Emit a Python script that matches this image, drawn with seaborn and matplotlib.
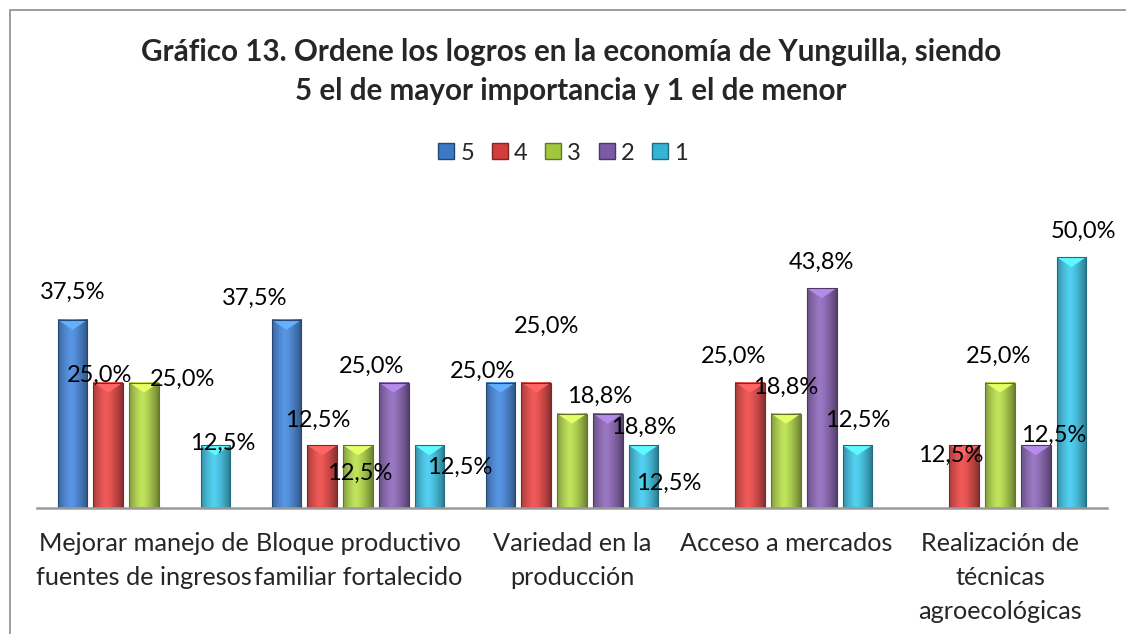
import numpy as np
import pandas as pd
import seaborn as sns
import matplotlib.pyplot as plt
import matplotlib.colors as mcolors
from matplotlib.patches import Rectangle, Polygon

categories = ["Mejorar manejo de\nfuentes de ingresos",
              "Bloque productivo\nfamiliar fortalecido",
              "Variedad en la\nproducción",
              "Acceso a mercados",
              "Realización de\ntécnicas\nagroecológicas"]
levels = ["5", "4", "3", "2", "1"]
v5 = [37.5, 37.5, 25.0, np.nan, np.nan]
v4 = [25.0, 12.5, 25.0, 25.0, 12.5]
v3 = [25.0, 12.5, 18.8, 18.8, 25.0]
v2 = [np.nan, 25.0, 18.8, 43.8, 12.5]
v1 = [12.5, 12.5, 12.5, 12.5, 50.0]
colors = ["#3b78c6", "#d33d3b", "#a3c63f", "#7d5aa6", "#35b3d3"]

# label offsets in pixels from the bar top centre (Excel put them all over the place)
offsets = {
    "5": [(0, 27), (-32, 21), (-18, 11), None, None],
    "4": [(-9, 7), (-5, 25), (10, 56), (-17, 26), (-14, -10)],
    "3": [(39, 3), (2, -28), (28, 17), (0, 26), (-1, 26)],
    "2": [None, (-22, 16), (36, -14), (0, 26), (18, 10)],
    "1": [(7, 2), (30, -22), (25, -38), (0, 25), (12, 26)],
}

df = pd.DataFrame({
    "categoria": categories * 5,
    "nivel": [l for l in levels for _ in categories],
    "valor": v5 + v4 + v3 + v2 + v1,
})

sns.set_style("white")
plt.rcParams["font.family"] = ["Lato", "DejaVu Sans"]

fig = plt.figure(figsize=(11.26, 6.34), dpi=100)
ax = fig.add_axes([37 / 1126, 126 / 634, 1070 / 1126, 276 / 634])

sns.barplot(data=df, x="categoria", y="valor", hue="nivel", hue_order=levels,
            order=categories, palette=colors, width=0.834, gap=0.17,
            errorbar=None, legend=False, ax=ax, saturation=1)


def shade(bar, color):
    x0, y0 = bar.get_x(), bar.get_y()
    w, h = bar.get_width(), bar.get_height()
    base = np.array(mcolors.to_rgb(color))
    t = np.linspace(0, 1, 40)
    prof = 1 - 0.45 * np.abs(t - 0.45) ** 1.5 * 2.2
    light = np.clip(base * prof[:, None] + 0.12 * (1 - np.abs(t - 0.4))[:, None], 0, 1)
    img = light[None, :, :]
    ax.imshow(img, extent=[x0, x0 + w, y0, y0 + h], aspect="auto",
              zorder=2.1, interpolation="bilinear")
    d = 2.0
    tri = Polygon([(x0, y0 + h), (x0 + w, y0 + h), (x0 + w / 2, y0 + h - d)],
                  closed=True, facecolor=np.clip(base * 1.25 + 0.1, 0, 1),
                  edgecolor="none", zorder=2.2)
    ax.add_patch(tri)
    ax.add_patch(Rectangle((x0, y0), w, h, fill=False,
                           edgecolor=base * 0.6, lw=0.8, zorder=2.3))


for lvl, cont, col in zip(levels, ax.containers, colors):
    for bar in cont:
        h = bar.get_height()
        if np.isnan(h) or h == 0:
            continue
        cx = bar.get_x() + bar.get_width() / 2
        ci = int(round(cx))
        shade(bar, col)
        off = offsets[lvl][ci]
        if off is None:
            continue
        ax.annotate(f"{h:.1f}%".replace(".", ","), (cx, h), xytext=off,
                    textcoords="offset pixels", ha="center", va="center",
                    fontsize=17, color="black", zorder=5)

ax.set_xlim(-0.5, 4.5)
ax.set_ylim(0, 55)
ax.set_xlabel("")
ax.set_ylabel("")
ax.set_yticks([])
ax.tick_params(axis="x", length=0, pad=17, labelsize=18.2)
for lab in ax.get_xticklabels():
    lab.set_linespacing(1.58)
for s in ["top", "right", "left"]:
    ax.spines[s].set_visible(False)
ax.spines["bottom"].set_color("#9a9a9a")
ax.spines["bottom"].set_linewidth(1.8)

fig.text(0.507, 1 - 52 / 634, "Gráfico 13. Ordene los logros en la economía de Yunguilla, siendo",
         ha="center", va="center", fontsize=21.3, fontweight="bold")
fig.text(0.507, 1 - 91 / 634, "5 el de mayor importancia y 1 el de menor",
         ha="center", va="center", fontsize=21.3, fontweight="bold")

handles = [Rectangle((0, 0), 1, 1, facecolor=c, edgecolor=np.array(mcolors.to_rgb(c)) * 0.6)
           for c in colors]
fig.legend(handles, levels, loc="center", bbox_to_anchor=(563 / 1126, 1 - 153 / 634),
           ncol=5, frameon=False, fontsize=17, handlelength=0.68, handleheight=0.63,
           handletextpad=0.25, columnspacing=0.75)

fig.patches.append(Rectangle((10 / 1126, -0.1), 1.2, (634 - 10) / 634 + 0.1,
                             transform=fig.transFigure, fill=False,
                             edgecolor="#8c8c8c", lw=1.2))

fig.savefig("out.png", dpi=100)
